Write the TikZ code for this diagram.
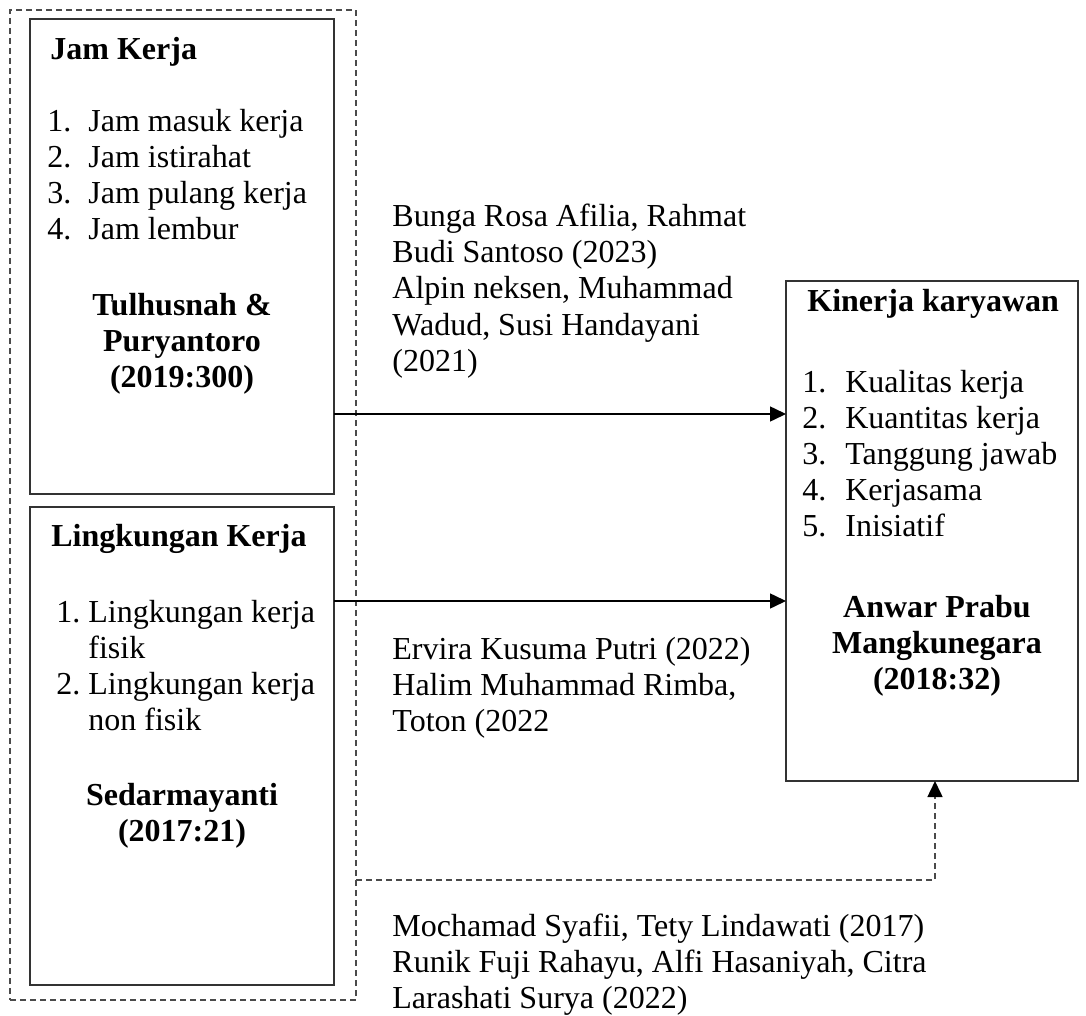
\documentclass[tikz,border=0pt]{standalone}
\usepackage{fontspec}
\setmainfont{Liberation Serif}
\usepackage{tikz}
\usetikzlibrary{arrows.meta, positioning, calc}
\definecolor{boxLine}{HTML}{333333}
\definecolor{frameLine}{HTML}{4A4A4A}

\begin{document}
\begin{tikzpicture}[x=0.5pt, y=-0.5pt,
    box/.style={draw=boxLine, line width=1pt, inner sep=0pt, outer sep=0pt},
    txt/.style={font=\fontsize{16}{18}\selectfont, inner sep=0pt, anchor=base west},
    head/.style={txt, font=\fontsize{16}{18}\selectfont\bfseries},
    refs/.style={font=\fontsize{16}{18}\selectfont\bfseries, inner sep=0pt, anchor=base},
    arr/.style={-{Triangle[length=8pt, width=7.5pt, color=black]}, line width=0.75pt},
    dashline/.style={draw=frameLine, line width=0.75pt, dash pattern=on 3pt off 2pt}]

    \useasboundingbox (0,0) rectangle (1086,1016);

    % ══════════════════════════════════════════════
    % ══ KOTAK VARIABEL ══
    % ══════════════════════════════════════════════

    % Bingkai putus-putus (X1 dan X2 bersama)
    \node[dashline, inner sep=0pt, outer sep=0pt, minimum width=173pt, minimum height=495pt] (frame) at (183, 505) {};

    % X1 Jam Kerja
    \node[box, minimum width=152pt, minimum height=237.5pt] (jam) at (182, 256.5) {};
    \node[head] (jamHead) at (50, 60) {Jam Kerja};
    \node[txt] (jam1) at (47, 132) {\makebox[20.5pt][l]{1.}Jam masuk kerja};
    \node[txt] (jam2) at (47, 168) {\makebox[20.5pt][l]{2.}Jam istirahat};
    \node[txt] (jam3) at (47, 204) {\makebox[20.5pt][l]{3.}Jam pulang kerja};
    \node[txt] (jam4) at (47, 240) {\makebox[20.5pt][l]{4.}Jam lembur};
    \node[refs] (jamRef1) at (182, 315) {Tulhusnah \&};
    \node[refs] (jamRef2) at (182, 351) {Puryantoro};
    \node[refs] (jamRef3) at (182, 387) {(2019:300)};

    % X2 Lingkungan Kerja
    \node[box, minimum width=152pt, minimum height=239pt] (ling) at (182, 746) {};
    \node[head] (lingHead) at (51, 546) {Lingkungan Kerja};
    \node[txt] (ling1) at (56, 622) {\makebox[16pt][l]{1.}Lingkungan kerja};
    \node[txt] (ling1b) at (88, 658) {fisik};
    \node[txt] (ling2) at (56, 694) {\makebox[16pt][l]{2.}Lingkungan kerja};
    \node[txt] (ling2b) at (88, 730) {non fisik};
    \node[refs] (lingRef1) at (182, 805) {Sedarmayanti};
    \node[refs] (lingRef2) at (182, 841) {(2017:21)};

    % Y Kinerja karyawan
    \node[box, minimum width=146pt, minimum height=250pt] (kin) at (932, 531) {};
    \node[head] (kinHead) at (807, 311) {Kinerja karyawan};
    \node[txt] (kin1) at (802, 392) {\makebox[21.5pt][l]{1.}Kualitas kerja};
    \node[txt] (kin2) at (802, 428) {\makebox[21.5pt][l]{2.}Kuantitas kerja};
    \node[txt] (kin3) at (802, 464) {\makebox[21.5pt][l]{3.}Tanggung jawab};
    \node[txt] (kin4) at (802, 500) {\makebox[21.5pt][l]{4.}Kerjasama};
    \node[txt] (kin5) at (802, 536) {\makebox[21.5pt][l]{5.}Inisiatif};
    \node[refs] (kinRef1) at (937, 617) {Anwar Prabu};
    \node[refs] (kinRef2) at (937, 653) {Mangkunegara};
    \node[refs] (kinRef3) at (937, 689) {(2018:32)};

    % ══════════════════════════════════════════════
    % ══ PANAH HUBUNGAN ══
    % ══════════════════════════════════════════════

    \coordinate (lvlA) at (0, 414);
    \coordinate (lvlB) at (0, 601);
    \coordinate (bend) at (935, 880);

    % X1 -> Y
    \draw[arr] (jam.east |- lvlA) -- (kin.west |- lvlA);
    % X2 -> Y
    \draw[arr] (ling.east |- lvlB) -- (kin.west |- lvlB);
    % X1 & X2 -> Y (simultan)
    \draw[dashline, arr] (frame.east |- bend) -- (bend) -- (kin.south -| bend);

    % ══════════════════════════════════════════════
    % ══ PENELITIAN TERDAHULU ══
    % ══════════════════════════════════════════════

    \node[txt] (srcA1) at (392, 227) {Bunga Rosa Afilia, Rahmat};
    \node[txt] (srcA2) at (392, 263) {Budi Santoso (2023)};
    \node[txt] (srcA3) at (392, 299) {Alpin neksen, Muhammad};
    \node[txt] (srcA4) at (392, 335) {Wadud, Susi Handayani};
    \node[txt] (srcA5) at (392, 371) {(2021)};

    \node[txt] (srcB1) at (392, 659) {Ervira Kusuma Putri (2022)};
    \node[txt] (srcB2) at (392, 695) {Halim Muhammad Rimba,};
    \node[txt] (srcB3) at (392, 731) {Toton (2022};

    \node[txt] (srcC1) at (392, 936) {Mochamad Syafii, Tety Lindawati (2017)};
    \node[txt] (srcC2) at (392, 972) {Runik Fuji Rahayu, Alfi Hasaniyah, Citra};
    \node[txt] (srcC3) at (392, 1008) {Larashati Surya (2022)};

\end{tikzpicture}
\end{document}
